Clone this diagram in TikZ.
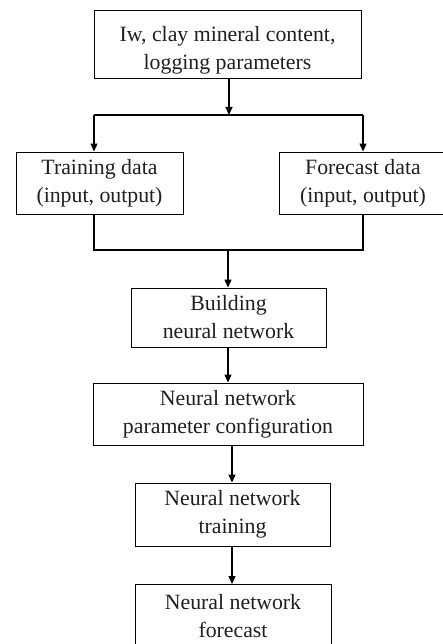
\documentclass[tikz,border=0pt]{standalone}
\usepackage{fontspec}
\setmainfont{Liberation Serif}
\usetikzlibrary{arrows.meta}
\begin{document}
\begin{tikzpicture}[x=1pt,y=-1pt,
  box/.style={draw, line width=0.9pt, inner sep=0pt, align=center,
    text=black!88, font=\fontsize{21.8}{28}\selectfont},
  flow/.style={line width=1.1pt},
  arr/.style={flow, -{Triangle[length=8pt,width=7pt]}}]
\useasboundingbox (0,0) rectangle (443,644);
% process boxes
\node[box, minimum width=267pt, minimum height=68pt] (src) at (227.5,44) {\rule{0pt}{27pt}Iw, clay mineral content,\\logging parameters};
\node[box, minimum width=167pt, minimum height=62pt] (train) at (99.5,183) {Training data\\(input, output)};
\node[box, minimum width=168pt, minimum height=62pt] (fdata) at (363,183) {Forecast data\\(input, output)};
\node[box, minimum width=195pt, minimum height=59pt] (build) at (228.5,317.5) {Building\\neural network};
\node[box, minimum width=270pt, minimum height=62pt] (param) at (228,414) {Neural network\\parameter configuration};
\node[box, minimum width=195pt, minimum height=63pt] (nntrain) at (232.5,514.5) {Neural network\\training};
\node[box, minimum width=196pt, minimum height=63pt] (nnfore) at (233,616) {Neural network\\forecast};
% split and merge points
\coordinate (splitl) at (94,115);
\coordinate (splitr) at (363,115);
\coordinate (splitc) at (229,115);
\coordinate (mergel) at (94,250);
\coordinate (merger) at (363,250);
\coordinate (mergec) at (228,250);
% connectors
\draw[arr] (splitc |- src.south) -- (splitc);
\draw[flow] (splitl) -- (splitr);
\draw[arr] (splitl) -- (splitl |- train.north);
\draw[arr] (splitr) -- (splitr |- fdata.north);
\draw[flow] (mergel |- train.south) -- (mergel) -- (merger) -- (merger |- fdata.south);
\draw[arr] (mergec) -- (mergec |- build.north);
\draw[arr] (build.south -| mergec) -- (param.north -| mergec);
\draw[arr] (param.south -| 232,0) -- (nntrain.north -| 232,0);
\draw[arr] (nntrain.south -| 232,0) -- (nnfore.north -| 232,0);
\end{tikzpicture}
\end{document}
